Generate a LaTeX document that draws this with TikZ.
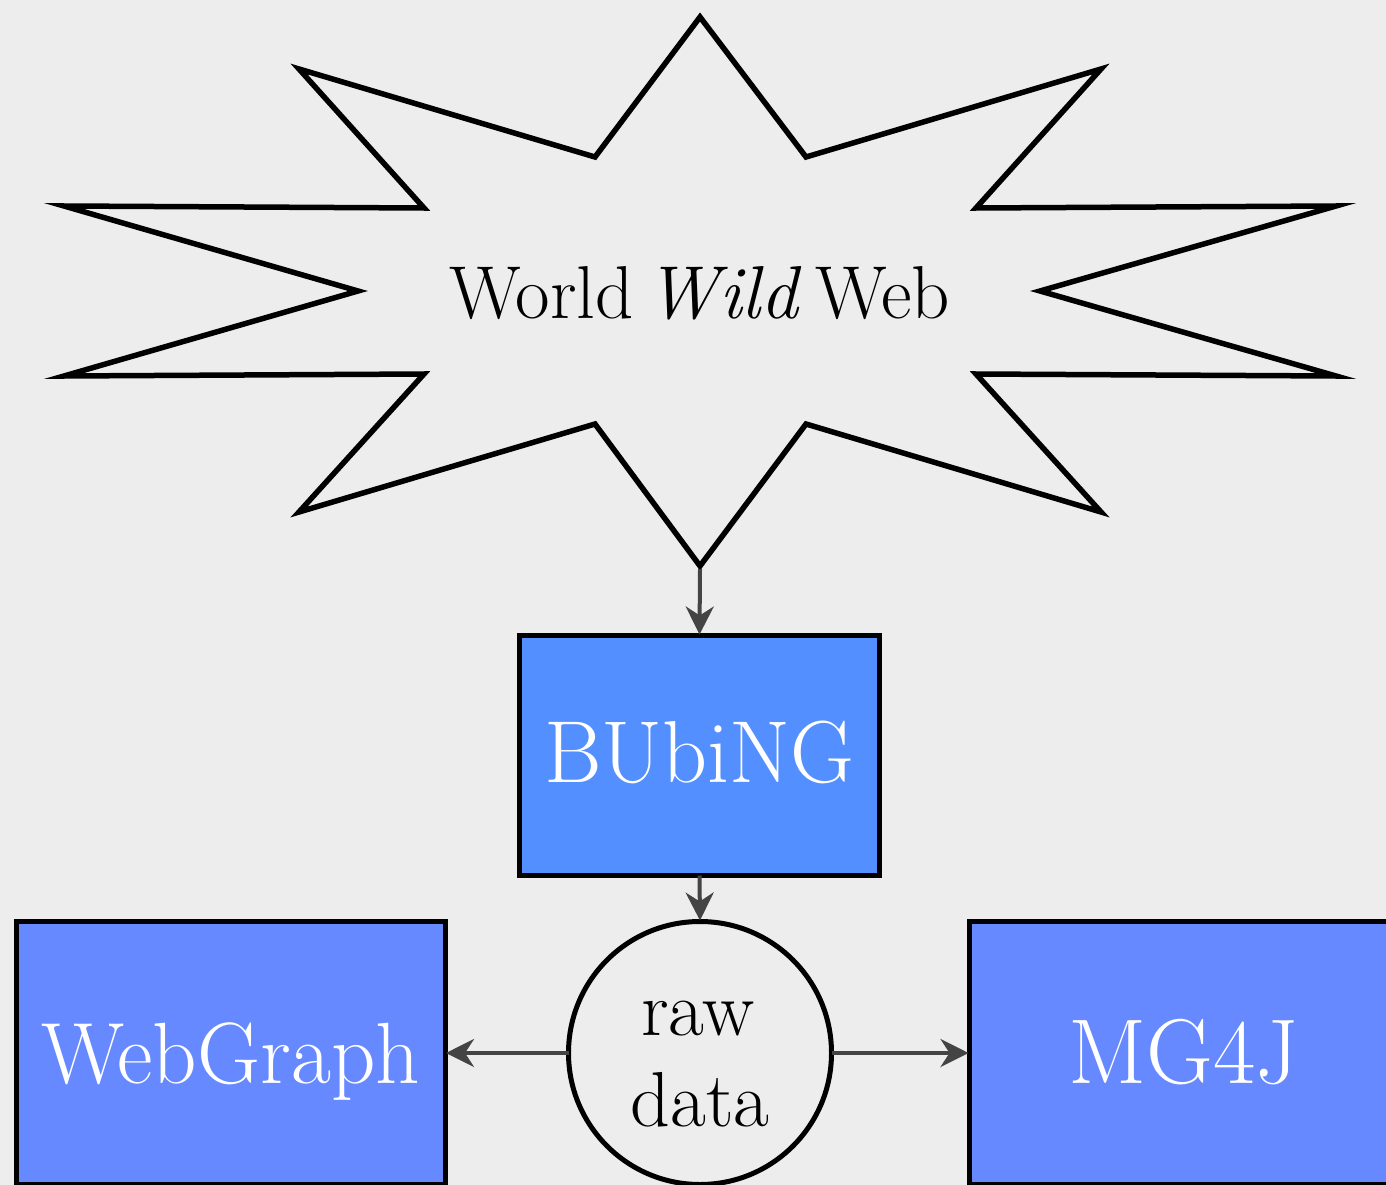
\documentclass[tikz,border=0pt]{standalone}
\usetikzlibrary{arrows.meta}
\definecolor{paper}{RGB}{237,237,237}
\definecolor{bubblue}{RGB}{84,143,255}
\definecolor{lowblue}{RGB}{102,137,255}
\definecolor{arrowgray}{RGB}{68,68,68}
\tikzset{
  boxnode/.style={draw=black, line width=5pt, rectangle, inner sep=0pt, outer sep=0pt,
    text=white, text depth=0pt},
  circnode/.style={draw=black, line width=5pt, circle, inner sep=0pt, outer sep=0pt, minimum size=263pt},
  lbl/.style={inner sep=0pt, anchor=base, font=\fontsize{78}{90}\selectfont},
  conn/.style={draw=arrowgray, line width=4pt, -{Stealth[length=28pt,width=28pt,inset=9pt]}, shorten >=1pt},
  starline/.style={draw=black, line width=5.5pt, line join=miter, miter limit=20}
}
\begin{document}
\begin{tikzpicture}[x=1pt,y=-1pt]
\useasboundingbox (0,0) rectangle (1386,1185);
\fill[paper] (0,0) rectangle (1386,1185);
\clip (0,0) rectangle (1386,1185);
% star
\draw[starline] (700,17) -- (806,157) -- (1101,69) -- (976,208) -- (1336,206) -- (1040,291)
  -- (1336,376) -- (976,374) -- (1101,512) -- (806,424) -- (700,566) -- (595,424)
  -- (299,512) -- (424,374) -- (64,376) -- (358,291) -- (64,206) -- (424,208)
  -- (299,69) -- (595,157) -- cycle;
\coordinate (startip) at (700,569);
\node[inner sep=0pt, anchor=base, font=\fontsize{75}{88}\selectfont] (www) at (700,318) {World\hspace{12pt}\textit{Wild}\hspace{14pt}Web};
% boxes
\node[boxnode, fill=bubblue, minimum width=360pt, minimum height=240pt, text height=53pt,
  font=\fontsize{88}{100}\selectfont] (bubing) at (699.5,755.5) {BUbiNG};
\node[boxnode, fill=lowblue, minimum width=429pt, minimum height=263pt, text height=60pt,
  font=\fontsize{87}{100}\selectfont] (webgraph) at (230.5,1053) {WebGraph};
\node[boxnode, fill=lowblue, minimum width=429pt, minimum height=263pt, text height=60pt,
  font=\fontsize{92}{100}\selectfont] (mg4j) at (1184,1053) {MG4J};
% circle
\node[circnode] (raw) at (700,1053) {};
\node[lbl] (rawtxt) at (698,1035) {raw};
\node[lbl] (datatxt) at (700,1126) {data};
% connectors
\draw[conn] (startip) -- (bubing.north);
\draw[conn] (bubing.south) -- (raw.north);
\draw[conn] (raw.west) -- (webgraph.east);
\draw[conn] (raw.east) -- (mg4j.west);
\end{tikzpicture}
\end{document}
